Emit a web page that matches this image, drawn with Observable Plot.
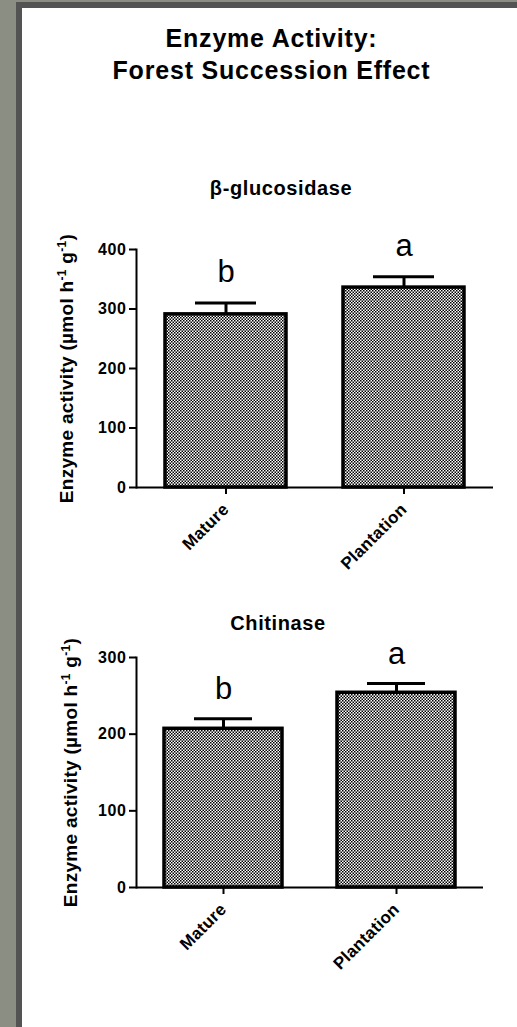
<!DOCTYPE html>
<html>
<head>
<meta charset="utf-8">
<script src="https://cdn.jsdelivr.net/npm/d3@7"></script>
<script src="https://cdn.jsdelivr.net/npm/@observablehq/plot@0.6"></script>
<style>
  html, body { margin: 0; padding: 0; }
  body { width: 517px; height: 1027px; overflow: hidden; }
  #page { position: relative; width: 517px; height: 1027px; background: #8b8f83; overflow: hidden;
          font-family: "Liberation Sans", Arial, sans-serif; }
  #panel { position: absolute; left: 16px; top: 2px; right: 0; bottom: 0; background: #fff;
           border-left: 6px solid #535353; border-top: 6px solid #535353; }
  .title { position: absolute; left: 0; width: 543px; text-align: center; font-weight: bold;
           font-size: 25px; line-height: 32px; letter-spacing: 0.8px; top: 22px; color: #000; }
  .sub { position: absolute; text-align: center; font-weight: bold; font-size: 20px; line-height: 20px;
         letter-spacing: 0.6px; color: #000; width: 300px; }
  .chart { position: absolute; left: 0; }
  .chart svg { overflow: visible; }
</style>
</head>
<body>
<div id="page">
  <div id="panel"></div>
  <div class="title">Enzyme Activity:<br>Forest Succession Effect</div>
  <div class="sub" id="sub1" style="left:131px; top:178px;">β-glucosidase</div>
  <div class="sub" id="sub2" style="left:128px; top:613px;">Chitinase</div>
  <div class="chart" id="c1" style="top:230px;"></div>
  <div class="chart" id="c2" style="top:640px;"></div>
</div>
<script>
const categories = ["Mature", "Plantation"];
const letters = ["b", "a"];
const glucMean = [291, 336];
const glucSE = [19, 18];
const chitMean = [207, 254];
const chitSE = [13, 12];
const glucTicks = [0, 100, 200, 300, 400];
const chitTicks = [0, 100, 200, 300];

function makeChart(id, means, ses, ticks, opts) {
  const data = categories.map((c, i) => ({cat: c, value: means[i], se: ses[i], letter: letters[i]}));
  const patId = "chk-" + id;
  const defs = () => {
    const d = d3.create("svg:defs");
    const p = d.append("pattern").attr("id", patId).attr("width", 3).attr("height", 3)
      .attr("patternUnits", "userSpaceOnUse");
    p.append("rect").attr("width", 3).attr("height", 3).attr("fill", "#fff");
    p.append("rect").attr("width", 1.5).attr("height", 1.5).attr("fill", "#000");
    p.append("rect").attr("x", 1.5).attr("y", 1.5).attr("width", 1.5).attr("height", 1.5).attr("fill", "#000");
    return d.node();
  };
  const chart = Plot.plot({
    width: 517,
    height: 330,
    marginLeft: 136,
    marginRight: opts.marginRight,
    marginTop: opts.marginTop,
    marginBottom: opts.marginBottom,
    style: {fontFamily: "Liberation Sans, Arial, sans-serif", fontSize: "15px", fontWeight: "bold",
            color: "#000", background: "transparent", overflow: "visible"},
    x: {type: "band", domain: categories, paddingInner: 0.32, paddingOuter: 0.16, align: 0.5},
    y: {domain: [0, ticks[ticks.length - 1]]},
    marks: [
      defs,
      Plot.barY(data, {x: "cat", y: "value", fill: `url(#${patId})`, stroke: "#000", strokeWidth: 3.5}),
      Plot.ruleX(data, {x: "cat", y1: "value", y2: d => d.value + d.se, stroke: "#000", strokeWidth: 3}),
      Plot.tickY(data, {x: "cat", y: d => d.value + d.se, stroke: "#000", strokeWidth: 3, insetLeft: 30, insetRight: 30}),
      Plot.text(data, {x: "cat", y: d => d.value + d.se, text: "letter", dy: opts.letterDy, lineAnchor: "bottom",
        fontSize: 31, fontWeight: "normal", fill: "#000"}),
      Plot.frame({anchor: "left", stroke: "#000", strokeWidth: 2}),
      Plot.ruleY([0], {stroke: "#000", strokeWidth: 2}),
      Plot.axisY({ticks: ticks, tickSize: 7, tickPadding: 3, strokeWidth: 2, fontSize: 16,
        label: "Y", labelAnchor: "center", labelArrow: "none", labelOffset: opts.labelOffset}),
      Plot.axisX({tickSize: 7, tickPadding: 12, strokeWidth: 2, tickRotate: -45, fontSize: 17, label: null})
    ]
  });
  const yt = chart.querySelector('[aria-label="y-axis tick label"]');
  if (yt) yt.setAttribute("letter-spacing", "0.6");
  const xt = chart.querySelector('[aria-label="x-axis tick label"]');
  if (xt) xt.setAttribute("letter-spacing", "0.3");
  // superscript units in the y label
  const lab = chart.querySelector('[aria-label="y-axis label"] text');
  if (lab) {
    lab.textContent = "";
    lab.setAttribute("font-size", 19);
    lab.setAttribute("font-weight", "bold");
    lab.setAttribute("letter-spacing", "0.3");
    const ns = "http://www.w3.org/2000/svg";
    const parts = [
      ["Enzyme activity (µmol h", 0, null],
      ["-1", -7, 12],
      [" g", 7, null],
      ["-1", -7, 12],
      [")", 7, null]
    ];
    for (const [t, dy, fs] of parts) {
      const ts = document.createElementNS(ns, "tspan");
      ts.textContent = t;
      if (dy) ts.setAttribute("dy", dy);
      if (fs) ts.setAttribute("font-size", fs);
      lab.appendChild(ts);
    }
  }
  document.getElementById(id).appendChild(chart);
}

makeChart("c1", glucMean, glucSE, glucTicks, {marginTop: 19, marginBottom: 73, marginRight: 24, letterDy: -21, labelOffset: 77});
makeChart("c2", chitMean, chitSE, chitTicks, {marginTop: 17, marginBottom: 83, marginRight: 34, letterDy: -20, labelOffset: 73});
</script>
</body>
</html>
